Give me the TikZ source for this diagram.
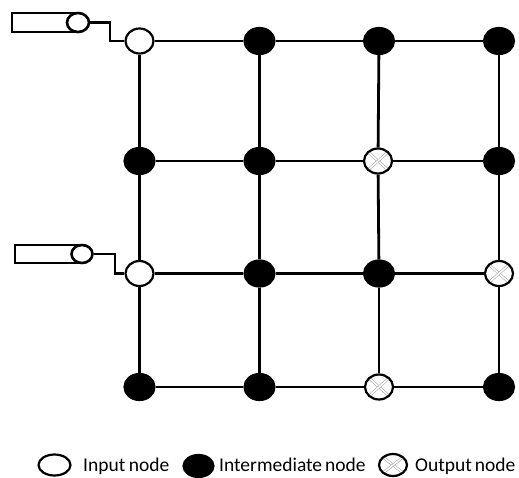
\documentclass[tikz,border=0pt]{standalone}
\usepackage{fontspec}
\setmainfont{Carlito}
\usetikzlibrary{shapes.geometric}
\begin{document}
\begin{tikzpicture}[x=1pt,y=-1pt,
  base/.style={ellipse,inner sep=0pt,line width=2.2pt,draw=black},
  innode/.style={base,fill=white,minimum width=28pt,minimum height=25pt},
  midnode/.style={base,fill=black,minimum width=30pt,minimum height=26pt},
  outnode/.style={base,fill=white,minimum width=28pt,minimum height=25pt,
    path picture={
      \draw[gray!80,line width=0.5pt,double=white,double distance=1.6pt]
        (path picture bounding box.north west) -- (path picture bounding box.south east);
      \draw[gray!80,line width=0.5pt,double=white,double distance=1.6pt]
        (path picture bounding box.north east) -- (path picture bounding box.south west);
    }},
  link/.style={line width=2.8pt,draw=black},
  stubbox/.style={draw=black,line width=2.6pt,fill=white},
  stubend/.style={ellipse,draw=black,line width=2.6pt,fill=white,inner sep=0pt},
  legtext/.style={font=\fontsize{19.5}{23}\selectfont,inner sep=0pt}
]
\useasboundingbox (0,0) rectangle (519,477);

\coordinate (p11) at (139.5,41);  \coordinate (p12) at (259.5,41);  \coordinate (p13) at (379,41);  \coordinate (p14) at (499,41);
\coordinate (p21) at (139.5,161); \coordinate (p22) at (259.5,161); \coordinate (p23) at (378,161); \coordinate (p24) at (499,161);
\coordinate (p31) at (139.5,273.5); \coordinate (p32) at (259.5,273.5); \coordinate (p33) at (379,273.5); \coordinate (p34) at (499,273.5);
\coordinate (p41) at (139.5,387); \coordinate (p42) at (259.5,387); \coordinate (p43) at (379,387); \coordinate (p44) at (499,387);

\node[innode]  (n11) at (p11) {};
\node[midnode] (n12) at (p12) {};
\node[midnode] (n13) at (p13) {};
\node[midnode] (n14) at (p14) {};
\node[midnode] (n21) at (p21) {};
\node[midnode] (n22) at (p22) {};
\node[outnode] (n23) at (p23) {};
\node[midnode] (n24) at (p24) {};
\node[innode]  (n31) at (p31) {};
\node[midnode] (n32) at (p32) {};
\node[midnode] (n33) at (p33) {};
\node[outnode] (n34) at (p34) {};
\node[midnode] (n41) at (p41) {};
\node[midnode] (n42) at (p42) {};
\node[outnode] (n43) at (p43) {};
\node[midnode] (n44) at (p44) {};

\foreach \r in {1,2,3,4}{
  \draw[link] (n\r1) -- (n\r2);
  \draw[link] (n\r2) -- (n\r3);
  \draw[link] (n\r3) -- (n\r4);
}
\foreach \c in {1,2,3,4}{
  \draw[link] (n1\c) -- (n2\c);
  \draw[link] (n2\c) -- (n3\c);
  \draw[link] (n3\c) -- (n4\c);
}

% input stubs
\draw[stubbox] (12,13) rectangle (78,32);
\node[stubend,minimum width=22pt,minimum height=19pt] (e1) at (78,22.5) {};
\coordinate (c1) at (110,22.5);
\draw[link] (e1.east) -- (c1) |- (n11.west);

\draw[stubbox] (15,245) rectangle (82,263);
\node[stubend,minimum width=21pt,minimum height=18pt] (e2) at (82,254) {};
\coordinate (c2) at (115,254);
\draw[link] (e2.east) -- (c2) |- (n31.west);

% legend
\node[innode,minimum width=32pt,minimum height=21pt] (l1) at (54.5,465) {};
\node[legtext,anchor=base west] (t1) at (83,471) {Input\hspace{3.5pt}node};
\node[midnode,minimum width=30pt,minimum height=22pt] (l2) at (198.5,466) {};
\node[legtext,anchor=base west] (t2) at (219,471) {Intermediate\hspace{3pt}node};
\node[outnode,minimum width=28pt,minimum height=22pt] (l3) at (393,465) {};
\node[legtext,anchor=base west] (t3) at (415,471) {Output\hspace{3pt}node};
\end{tikzpicture}
\end{document}
